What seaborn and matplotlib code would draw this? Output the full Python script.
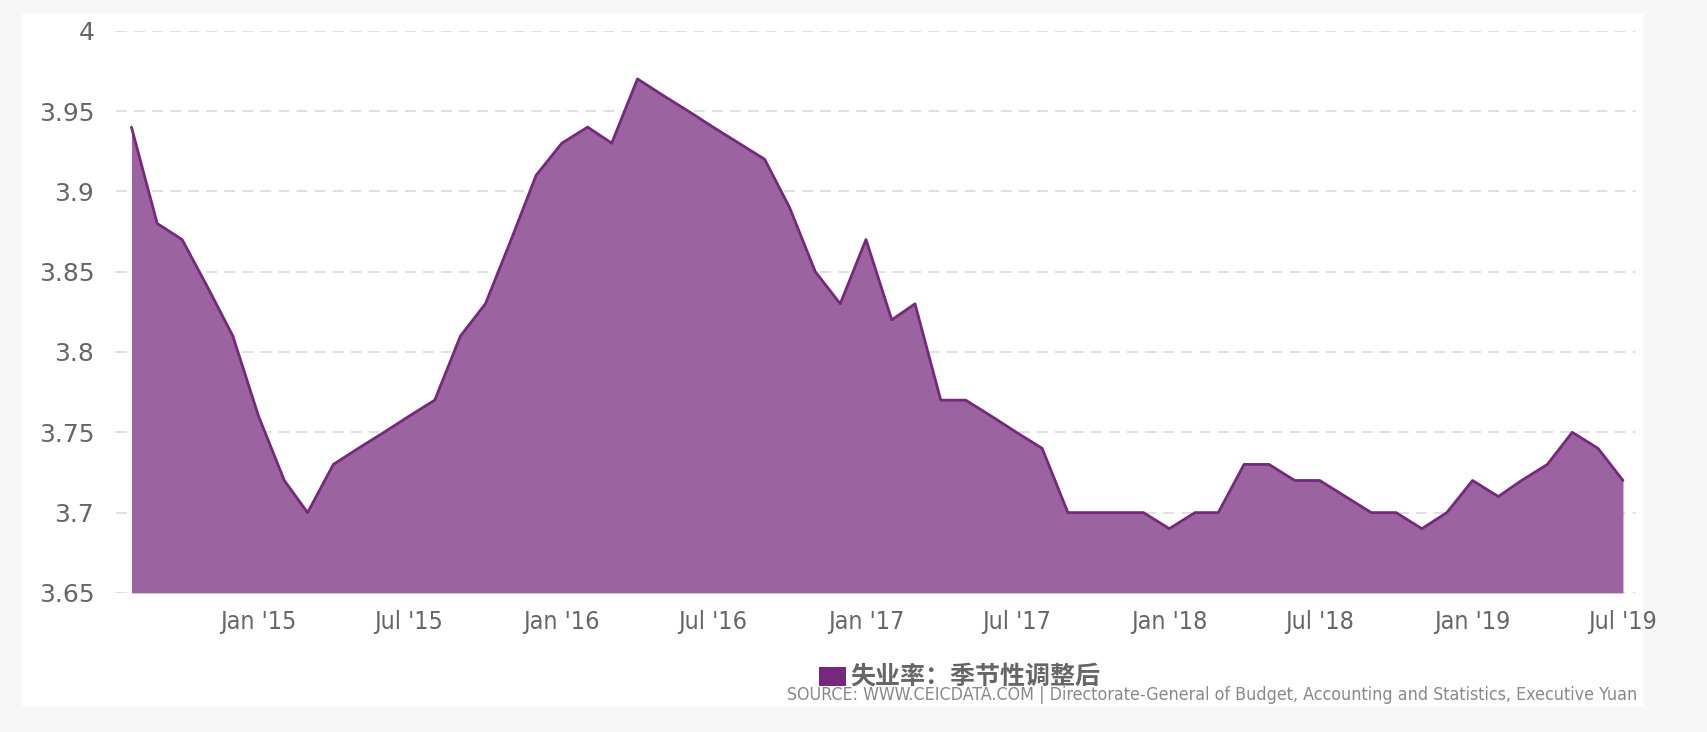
import pandas as pd
import seaborn as sns
import matplotlib.pyplot as plt
import matplotlib.dates as mdates
from matplotlib import font_manager
from matplotlib.patches import Rectangle

# monthly unemployment rate, seasonally adjusted (Aug 2014 - Jul 2019)
start_month = "2014-08-01"
rate = [3.94, 3.88, 3.87, 3.84, 3.81, 3.76, 3.72, 3.70, 3.73, 3.74,
        3.75, 3.76, 3.77, 3.81, 3.83, 3.87, 3.91, 3.93, 3.94, 3.93,
        3.97, 3.96, 3.95, 3.94, 3.93, 3.92, 3.89, 3.85, 3.83, 3.87,
        3.82, 3.83, 3.77, 3.77, 3.76, 3.75, 3.74, 3.70, 3.70, 3.70,
        3.70, 3.69, 3.70, 3.70, 3.73, 3.73, 3.72, 3.72, 3.71, 3.70,
        3.70, 3.69, 3.70, 3.72, 3.71, 3.72, 3.73, 3.75, 3.74, 3.72]
y_ticks = [3.65, 3.7, 3.75, 3.8, 3.85, 3.9, 3.95, 4]
y_labels = ["3.65", "3.7", "3.75", "3.8", "3.85", "3.9", "3.95", "4"]
series_name = "失业率：季节性调整后"
source = "SOURCE: WWW.CEICDATA.COM | Directorate-General of Budget, Accounting and Statistics, Executive Yuan"

df = pd.DataFrame({"date": pd.date_range(start_month, periods=len(rate), freq="MS"),
                   "rate": rate})

sns.set_style("white")
plt.rcParams["font.family"] = ["DejaVu Sans", "Noto Sans CJK SC"]

# look for a narrow face for the x labels and source line
installed = {f.name for f in font_manager.fontManager.ttflist}
condensed = [f for f in font_manager.fontManager.ttflist
             if f.name == "DejaVu Sans" and f.stretch == "condensed"]
if "Liberation Sans Narrow" in installed:
    narrow, stretch, xsize, ssize = "Liberation Sans Narrow", "normal", 21, 15.5
elif condensed:
    narrow, stretch, xsize, ssize = "DejaVu Sans", "condensed", 18, 12.8
else:
    narrow, stretch, xsize, ssize = "Roboto", "normal", 17, 12.8

fill_color = "#9b64a0"
line_color = "#76287d"
text_color = "#666666"

fig = plt.figure(figsize=(17.08, 7.32), dpi=100)
fig.patch.set_facecolor("#f7f7f7")
fig.patches.append(Rectangle((0.0129, 0.0355), 0.949, 0.945, transform=fig.transFigure,
                             facecolor="white", edgecolor="none", zorder=-5))

ax = fig.add_axes([0.0682, 0.190, 0.8898, 0.768])
ax.set_facecolor("none")

ax.fill_between(df["date"], rate, 3.65, color=fill_color, linewidth=0, zorder=2)
sns.lineplot(data=df, x="date", y="rate", color=line_color, linewidth=2.0, ax=ax, zorder=3)

ax.set_ylim(3.65, 4.0)
ax.set_xlim(df["date"].iloc[0] - pd.Timedelta(days=18), df["date"].iloc[-1] + pd.Timedelta(days=16))
ax.set_yticks(y_ticks)
ax.set_yticklabels(y_labels)
for y in y_ticks:
    ax.axhline(y, color="#dddddd", linewidth=1.3, linestyle=(0, (6, 4)), zorder=1)

ax.xaxis.set_major_locator(mdates.MonthLocator(bymonth=[1, 7]))
ax.xaxis.set_major_formatter(mdates.DateFormatter("%b '%y"))

ax.tick_params(axis="y", length=0, pad=16, labelsize=18, labelcolor=text_color)
ax.tick_params(axis="x", length=0, pad=12, labelsize=xsize, labelcolor=text_color)
for lab in ax.get_xticklabels():
    lab.set_family(narrow)
    lab.set_stretch(stretch)

ax.set_xlabel("")
ax.set_ylabel("")
for s in ax.spines.values():
    s.set_visible(False)

# legend
fig.patches.append(Rectangle((0.4795, 0.0628), 0.0158, 0.026, transform=fig.transFigure,
                             facecolor=line_color, edgecolor="none"))
fig.text(0.4975, 0.076, series_name, fontsize=18, fontweight="bold", color=text_color,
         va="center", ha="left", family=["Noto Sans CJK SC", "DejaVu Sans"])
fig.text(0.9585, 0.050, source, fontsize=ssize, color="#888888", va="center", ha="right",
         family=narrow, fontstretch=stretch)

fig.savefig("out.png", dpi=100, facecolor=fig.get_facecolor())
